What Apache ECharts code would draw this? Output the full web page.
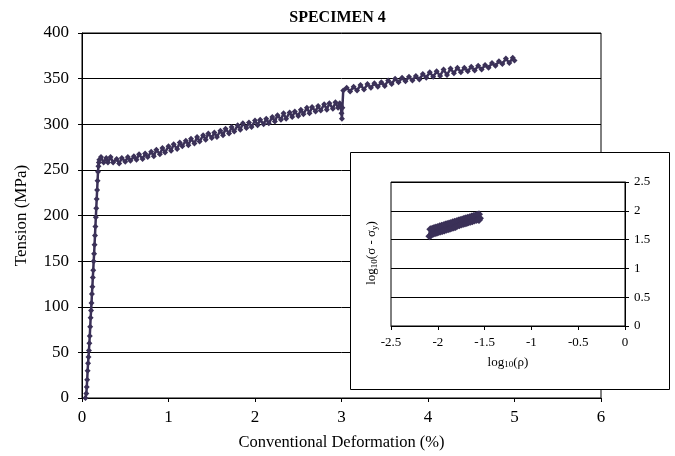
<!DOCTYPE html>
<html>
<head>
<meta charset="utf-8">
<script src="https://cdn.jsdelivr.net/npm/echarts@6/dist/echarts.min.js"></script>
<style>
  html, body { margin: 0; padding: 0; background: #fff; }
  #chart { width: 675px; height: 456px; }
</style>
</head>
<body>
<div id="chart"></div>
<script>
  // main curve: conventional deformation (%) vs tension (MPa)
  var deformation = [
    0.04, 0.05, 0.055, 0.06, 0.065, 0.07, 0.075, 0.08, 0.085, 0.09, 0.095, 0.10, 0.105, 0.11, 0.115,
    0.12, 0.125, 0.13, 0.135, 0.14, 0.145, 0.15, 0.155, 0.16, 0.165, 0.17, 0.175, 0.18, 0.185, 0.19, 0.195,
    0.20, 0.22, 0.25, 0.28, 0.30, 0.33, 0.36, 0.40, 0.43, 0.46, 0.50, 0.53, 0.56, 0.60, 0.63, 0.66,
    0.70, 0.73, 0.76, 0.80, 0.83, 0.86, 0.90, 0.93, 0.96, 1.00, 1.03, 1.06, 1.10, 1.13, 1.16,
    1.20, 1.23, 1.26, 1.30, 1.33, 1.36, 1.40, 1.43, 1.46, 1.50, 1.53, 1.56, 1.60, 1.63, 1.66,
    1.70, 1.73, 1.76, 1.80, 1.83, 1.86, 1.90, 1.93, 1.96, 2.00, 2.03, 2.06, 2.10, 2.13, 2.16,
    2.20, 2.23, 2.26, 2.30, 2.33, 2.36, 2.40, 2.43, 2.46, 2.50, 2.53, 2.56, 2.60, 2.63, 2.66,
    2.70, 2.73, 2.76, 2.80, 2.83, 2.86, 2.90, 2.93, 2.96, 2.98, 2.99, 3.00, 3.005, 3.01,
    3.02, 3.06, 3.10, 3.14, 3.18, 3.22, 3.26, 3.30, 3.34, 3.38, 3.42, 3.46, 3.50, 3.54, 3.58,
    3.62, 3.66, 3.70, 3.74, 3.78, 3.82, 3.86, 3.90, 3.94, 3.98, 4.02, 4.06, 4.10, 4.14, 4.18,
    4.22, 4.26, 4.30, 4.34, 4.38, 4.42, 4.46, 4.50, 4.54, 4.58, 4.62, 4.66, 4.70, 4.74, 4.78,
    4.82, 4.86, 4.90, 4.94, 4.98, 5.00
  ]
  var tension = [
    0, 5, 12, 20, 30, 38, 45, 52, 60, 68, 78, 88, 96, 104, 114,
    122, 132, 140, 150, 158, 168, 178, 188, 198, 208, 218, 228, 238, 248, 254, 258,
    261, 264, 258, 263, 258, 264, 258, 262, 257, 263, 259, 264, 260, 265, 261, 267,
    262, 268, 264, 270, 265, 272, 267, 274, 269, 276, 271, 278, 273, 280, 276,
    282, 277, 284, 279, 286, 281, 288, 283, 290, 285, 291, 286, 293, 288, 295,
    290, 297, 292, 299, 294, 301, 296, 302, 297, 304, 299, 305, 300, 306, 301,
    308, 303, 310, 305, 312, 306, 313, 308, 314, 309, 316, 311, 318, 312, 319,
    314, 320, 315, 322, 316, 323, 317, 324, 318, 323, 320, 312, 306, 318,
    337, 340, 336, 341, 337, 343, 338, 344, 340, 345, 341, 346, 342, 348, 344,
    350, 346, 351, 347, 352, 348, 353, 349, 355, 351, 357, 352, 358, 353, 360,
    354, 361, 356, 362, 357, 362, 358, 363, 359, 364, 360, 365, 362, 367, 364,
    369, 366, 372, 367, 373, 370
  ]

  // inset: log10(rho) vs log10(sigma - sigma_y)
  var logRho = [
    -2.09, -2.08, -2.07, -2.06, -2.05, -2.04, -2.03, -2.02, -2.01, -2.00, -1.99, -1.98, -1.97, -1.96,
    -1.95, -1.94, -1.93, -1.92, -1.91, -1.90, -1.89, -1.88, -1.87, -1.86, -1.85, -1.84, -1.83, -1.82,
    -1.81, -1.80, -1.79, -1.78, -1.77, -1.76, -1.75, -1.74, -1.73, -1.72, -1.71, -1.70, -1.69, -1.68,
    -1.67, -1.66, -1.65, -1.64, -1.63, -1.62, -1.61, -1.60, -1.59, -1.58, -1.57, -1.56, -1.55, -1.56
  ]
  var logStress = [
    1.56, 1.68, 1.58, 1.69, 1.60, 1.70, 1.61, 1.71, 1.62, 1.72, 1.63, 1.73, 1.64, 1.74,
    1.65, 1.75, 1.66, 1.76, 1.67, 1.77, 1.68, 1.78, 1.69, 1.79, 1.70, 1.80, 1.71, 1.81,
    1.72, 1.82, 1.74, 1.83, 1.75, 1.84, 1.76, 1.85, 1.77, 1.86, 1.78, 1.87, 1.79, 1.88,
    1.80, 1.89, 1.81, 1.90, 1.82, 1.91, 1.83, 1.92, 1.84, 1.93, 1.85, 1.94, 1.87, 1.84
  ]

  var mainX = [0, 1, 2, 3, 4, 5, 6]
  var mainY = [0, 50, 100, 150, 200, 250, 300, 350, 400]
  var insetX = [-2.5, -2, -1.5, -1, -0.5, 0]
  var insetY = [0, 0.5, 1, 1.5, 2, 2.5]

  var serif = "'Liberation Serif', 'Times New Roman', serif"
  var markColor = '#3b3158'

  function pairs (xs, ys) {
    var out = []
    for (var i = 0; i < xs.length; i++) {
      out.push([xs[i], ys[i]])
    }
    return out
  }

  var chart = echarts.init(document.getElementById('chart'))
  var option = {
    animation: false,
    backgroundColor: '#fff',
    title: {
      text: 'SPECIMEN 4',
      left: 'center',
      top: 5,
      textStyle: { fontFamily: serif, fontSize: 16, fontWeight: 'bold', color: '#000' },
    },
    graphic: {
      elements: [
        {
          type: 'rect',
          z: 50,
          shape: { x: 350.5, y: 152.5, width: 319, height: 237 },
          style: { fill: '#fff', stroke: '#000', lineWidth: 1 },
        },
        {
          type: 'text',
          z: 60,
          x: 372,
          y: 253,
          rotation: Math.PI / 2,
          style: {
            text: '{a|log}{s|10}{a|(σ - σ}{s|y}{a|)}',
            align: 'center',
            verticalAlign: 'middle',
            rich: {
              a: { fontFamily: serif, fontSize: 13, fill: '#000' },
              s: { fontFamily: serif, fontSize: 9, fill: '#000', verticalAlign: 'bottom', padding: [6, 0, 0, 0] },
            },
          },
        },
      ],
    },
    grid: [
      {
        left: 82,
        right: 74,
        top: 33,
        bottom: 58,
        show: true,
        borderColor: '#000',
        borderWidth: 1,
      },
      {
        left: 391,
        right: 50,
        top: 182,
        bottom: 130,
        show: true,
        z: 60,
        backgroundColor: 'transparent',
        borderColor: '#000',
        borderWidth: 1,
      },
    ],
    xAxis: [
      {
        gridIndex: 0,
        type: 'value',
        min: mainX[0],
        max: mainX[mainX.length - 1],
        interval: 1,
        name: 'Conventional Deformation (%)',
        nameLocation: 'middle',
        nameGap: 36,
        nameTextStyle: { fontFamily: serif, fontSize: 16.5, color: '#000' },
        axisLine: { lineStyle: { color: '#000' } },
        axisTick: { show: true, length: 4, lineStyle: { color: '#000' } },
        axisLabel: { fontFamily: serif, fontSize: 17, color: '#000', margin: 11 },
        splitLine: { show: false },
      },
      {
        gridIndex: 1,
        type: 'value',
        z: 60,
        min: insetX[0],
        max: insetX[insetX.length - 1],
        interval: 0.5,
        name: '{a|log}{s|10}{a|(ρ)}',
        nameLocation: 'middle',
        nameGap: 30,
        nameTextStyle: {
          rich: {
            a: { fontFamily: serif, fontSize: 13, color: '#000' },
            s: { fontFamily: serif, fontSize: 9, color: '#000', padding: [4, 0, 0, 0] },
          },
        },
        axisLine: { lineStyle: { color: '#000' } },
        axisTick: { show: true, length: 4, lineStyle: { color: '#000' } },
        axisLabel: { fontFamily: serif, fontSize: 13, color: '#000', margin: 10 },
        splitLine: { show: false },
      },
    ],
    yAxis: [
      {
        gridIndex: 0,
        type: 'value',
        min: mainY[0],
        max: mainY[mainY.length - 1],
        interval: 50,
        name: 'Tension (MPa)',
        nameLocation: 'middle',
        nameGap: 52,
        nameTextStyle: { fontFamily: serif, fontSize: 17, color: '#000' },
        axisLine: { show: true, lineStyle: { color: '#000' } },
        axisTick: { show: true, length: 4, lineStyle: { color: '#000' } },
        axisLabel: { fontFamily: serif, fontSize: 17, color: '#000', margin: 13 },
        splitLine: { show: true, lineStyle: { color: '#000', width: 1 } },
      },
      {
        gridIndex: 1,
        type: 'value',
        z: 60,
        position: 'right',
        min: insetY[0],
        max: insetY[insetY.length - 1],
        interval: 0.5,
        axisLine: { show: true, lineStyle: { color: '#000' } },
        axisTick: { show: true, length: 4, lineStyle: { color: '#000' } },
        axisLabel: { fontFamily: serif, fontSize: 13, color: '#000', margin: 9 },
        splitLine: { show: true, lineStyle: { color: '#000', width: 1 } },
      },
    ],
    series: [
      {
        type: 'line',
        xAxisIndex: 0,
        yAxisIndex: 0,
        data: pairs(deformation, tension),
        symbol: 'diamond',
        symbolSize: 6,
        showAllSymbol: true,
        lineStyle: { color: markColor, width: 2.5 },
        itemStyle: { color: markColor },
        z: 3,
      },
      {
        type: 'line',
        xAxisIndex: 1,
        yAxisIndex: 1,
        data: pairs(logRho, logStress),
        symbol: 'diamond',
        symbolSize: 8,
        showAllSymbol: true,
        lineStyle: { color: markColor, width: 3 },
        itemStyle: { color: markColor },
        z: 70,
      },
    ],
  }
  chart.setOption(option)
</script>
</body>
</html>
